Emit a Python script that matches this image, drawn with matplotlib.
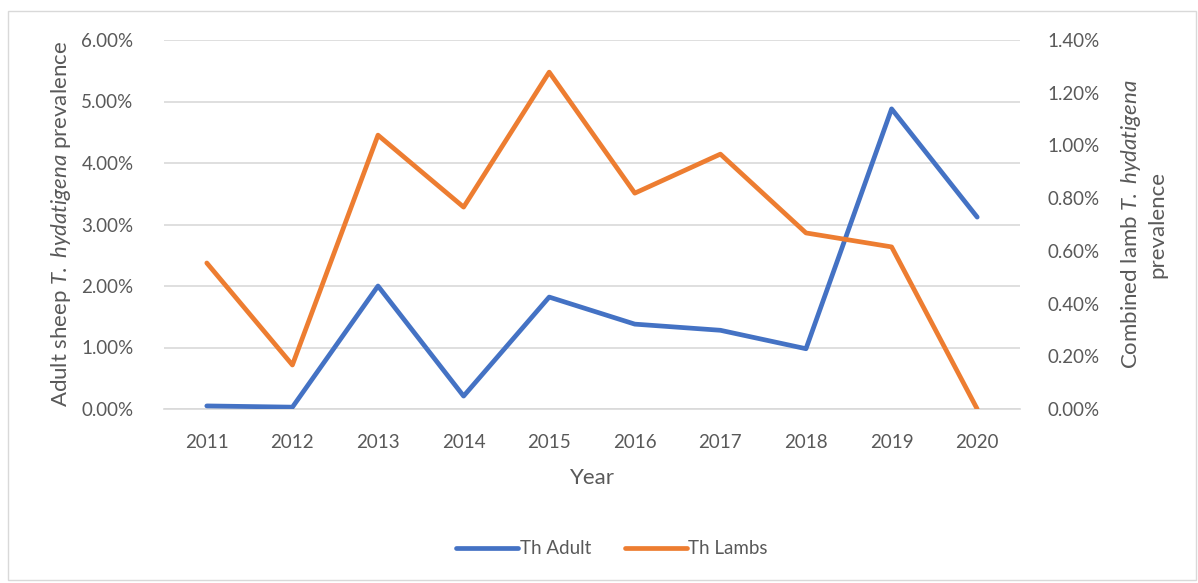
import matplotlib.pyplot as plt
from matplotlib.patches import Rectangle
from matplotlib.ticker import FuncFormatter

plt.rcParams['font.family'] = 'Lato'
plt.rcParams['mathtext.fontset'] = 'custom'
plt.rcParams['mathtext.rm'] = 'Lato'
plt.rcParams['mathtext.it'] = 'Lato:italic'

years = ['2011', '2012', '2013', '2014', '2015', '2016', '2017', '2018', '2019', '2020']
adult = [0.05, 0.03, 2.00, 0.21, 1.82, 1.38, 1.28, 0.98, 4.88, 3.12]
lambs = [0.554, 0.167, 1.039, 0.766, 1.278, 0.819, 0.967, 0.668, 0.615, 0.0]

blue = '#4472C4'
orange = '#ED7D31'
grey = '#595959'

fig = plt.figure(figsize=(11.98, 5.83), dpi=100)
fig.patches.append(Rectangle((8 / 1198, 3 / 583), 1188 / 1198, 569 / 583,
                             transform=fig.transFigure, fill=False,
                             edgecolor='#D9D9D9', linewidth=1))

ax = fig.add_axes([164 / 1198, 1 - 409 / 583, 856 / 1198, 369 / 583])
ax2 = ax.twinx()

x = list(range(len(years)))
l1, = ax.plot(x, adult, color=blue, lw=3.4, solid_capstyle='round', label='Th Adult', zorder=3)
l2, = ax2.plot(x, lambs, color=orange, lw=3.4, solid_capstyle='round', label='Th Lambs', zorder=3)

ax.set_xlim(-0.5, 9.5)
ax.set_ylim(0, 6)
ax2.set_ylim(0, 1.4)
ax.set_yticks([0, 1, 2, 3, 4, 5, 6])
ax2.set_yticks([0, 0.2, 0.4, 0.6, 0.8, 1.0, 1.2, 1.4])
ax.yaxis.set_major_formatter(FuncFormatter(lambda v, p: f'{v:.2f}%'))
ax2.yaxis.set_major_formatter(FuncFormatter(lambda v, p: f'{v:.2f}%'))
ax.set_xticks(x)
ax.set_xticklabels(years)

ax.grid(axis='y', color='#D9D9D9', lw=1.2)
ax.set_axisbelow(True)
for a in (ax, ax2):
    for s in a.spines.values():
        s.set_visible(False)
    a.tick_params(length=0, labelsize=13.5, colors=grey)
ax.tick_params(axis='y', pad=22)
ax.tick_params(axis='x', pad=18)
ax2.tick_params(axis='y', pad=20)
ax.spines['bottom'].set_visible(True)
ax.spines['bottom'].set_color('#D9D9D9')
ax.spines['bottom'].set_linewidth(1.2)

ax.set_ylabel(r'Adult sheep $\it{T.\ hydatigena}$ prevalence', fontsize=16, color=grey, labelpad=6)
ax2.set_ylabel('Combined lamb $\\it{T.\\ hydatigena}$\nprevalence', fontsize=16, color=grey,
               rotation=90, labelpad=14, linespacing=1.25)
ax.set_xlabel('Year', fontsize=16, color=grey, labelpad=12)

fig.legend(handles=[l1, l2], loc='center', bbox_to_anchor=(612 / 1198, 1 - 549 / 583),
           ncol=2, frameon=False, fontsize=13.5, labelcolor=grey,
           handlelength=3.3, handletextpad=0.1, columnspacing=1.8)

fig.savefig('out.png', dpi=100)
